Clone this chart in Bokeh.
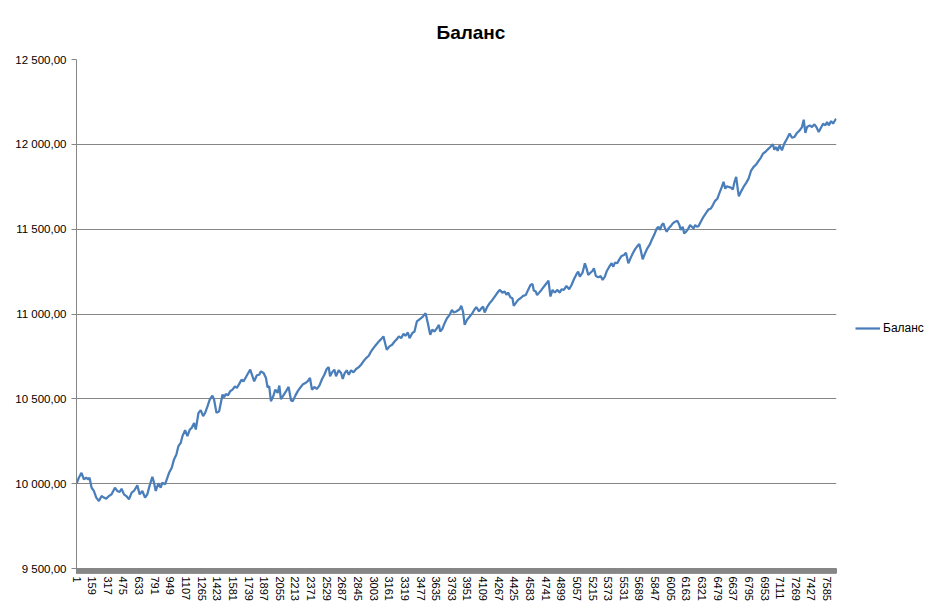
from bokeh.plotting import figure
from bokeh.models import FixedTicker, Range1d, Legend, LegendItem
from bokeh.embed import file_html
from bokeh.resources import INLINE

# ---------------- data ----------------
N_CATEGORIES = 7680

x_tick_labels = [1, 159, 317, 475, 633, 791, 949, 1107, 1265, 1423, 1581, 1739, 1897,
                 2055, 2213, 2371, 2529, 2687, 2845, 3003, 3161, 3319, 3477, 3635, 3793,
                 3951, 4109, 4267, 4425, 4583, 4741, 4899, 5057, 5215, 5373, 5531, 5689,
                 5847, 6005, 6163, 6321, 6479, 6637, 6795, 6953, 7111, 7269, 7427, 7585]

y_ticks = [9500, 10000, 10500, 11000, 11500, 12000, 12500]
y_tick_labels = ["9 500,00", "10 000,00", "10 500,00", "11 000,00",
                 "11 500,00", "12 000,00", "12 500,00"]

idx_part1 = [1, 24, 51, 75, 98, 119, 132, 153, 176, 200, 227, 254, 277, 301, 328, 355, 389,
             412, 436, 456, 480, 504, 531, 558, 581, 615, 639, 666, 693, 716, 740, 767, 784,
             801, 828, 851, 868, 895, 919, 936, 963, 986, 1010, 1030, 1054, 1071, 1098, 1121,
             1145, 1165, 1189, 1206, 1233, 1256, 1280, 1300, 1324, 1347, 1374, 1391, 1415, 1442,
             1476, 1493, 1509, 1533, 1553, 1577, 1601, 1621, 1645, 1668, 1688, 1712, 1736, 1756,
             1779, 1796, 1823, 1847, 1864, 1891, 1915, 1931, 1948]
bal_part1 = [10000, 10035, 10064, 10025, 10035, 10025, 10035, 9976, 9957, 9918, 9898, 9927,
             9918, 9912, 9927, 9937, 9976, 9957, 9951, 9970, 9937, 9927, 9908, 9947, 9957, 9990,
             9937, 9957, 9918, 9937, 9990, 10041, 10006, 9957, 10002, 9976, 10006, 9996, 10035,
             10064, 10094, 10143, 10172, 10221, 10241, 10280, 10315, 10280, 10319, 10329, 10358,
             10319, 10417, 10433, 10398, 10417, 10456, 10495, 10519, 10495, 10417, 10427,
             10525, 10509, 10529, 10521, 10545, 10554, 10574, 10564, 10588, 10613, 10603, 10627,
             10652, 10672, 10633, 10603, 10639, 10642, 10662, 10652, 10623, 10568, 10574]

idx_part2 = [1965, 1989, 2009, 2033, 2050, 2066, 2090, 2117, 2144, 2168, 2185, 2212, 2235, 2259,
             2286, 2313, 2336, 2360, 2380, 2404, 2428, 2455, 2482, 2505, 2529, 2549, 2563, 2583,
             2606, 2623, 2650, 2674, 2691, 2708, 2731, 2752, 2775, 2799, 2826, 2853, 2876, 2900,
             2927, 2954, 2978, 3001, 3028, 3055, 3079, 3102, 3123, 3136, 3163, 3190, 3214, 3238,
             3258, 3281, 3305, 3325, 3349, 3366, 3393, 3416, 3440, 3467, 3501, 3528, 3551, 3575,
             3595, 3619, 3643, 3663, 3676, 3697, 3720, 3744, 3771, 3794, 3811, 3838, 3872]
bal_part2 = [10486, 10515, 10554, 10535, 10578, 10499, 10519, 10544, 10570, 10492, 10486, 10519,
             10544, 10564, 10584, 10593, 10603, 10623, 10554, 10570, 10558, 10578, 10617, 10642,
             10676, 10687, 10633, 10656, 10672, 10633, 10668, 10652, 10617, 10648, 10668, 10642,
             10668, 10656, 10676, 10687, 10701, 10721, 10740, 10754, 10780, 10799, 10819, 10838,
             10852, 10868, 10819, 10789, 10809, 10819, 10838, 10852, 10868, 10858, 10883, 10872,
             10891, 10858, 10887, 10897, 10956, 10969, 10985, 11005, 10946, 10877, 10907, 10897,
             10917, 10936, 10897, 10911, 10946, 10975, 10995, 11024, 11009, 11015, 11028]

idx_part3 = [3889, 3906, 3923, 3947, 3974, 4001, 4024, 4041, 4068, 4092, 4109, 4125, 4149, 4176,
             4203, 4227, 4250, 4277, 4304, 4328, 4345, 4362, 4385, 4406, 4419, 4439, 4463, 4487,
             4514, 4541, 4564, 4588, 4608, 4622, 4642, 4655, 4676, 4699, 4723, 4750, 4770, 4790,
             4811, 4834, 4858, 4885, 4902, 4925, 4952, 4979, 5003, 5027, 5054, 5070, 5087, 5114,
             5138, 5155, 5172, 5189, 5216, 5229, 5249, 5273, 5297, 5317, 5340, 5357, 5384, 5408,
             5425, 5442, 5465, 5486, 5509, 5533, 5553, 5577, 5594, 5621, 5644, 5668, 5688, 5702,
             5722, 5745, 5769, 5796]
bal_part3 = [11048, 11015, 10936, 10966, 10985, 11005, 11028, 11040, 11015, 11034, 11044, 11009,
             11040, 11064, 11083, 11103, 11122, 11142, 11126, 11132, 11113, 11126, 11099, 11093,
             11048, 11064, 11083, 11093, 11107, 11112, 11142, 11171, 11177, 11138, 11132, 11112,
             11126, 11142, 11161, 11181, 11197, 11103, 11142, 11126, 11142, 11126, 11146, 11142,
             11165, 11146, 11171, 11205, 11236, 11250, 11220, 11244, 11299, 11269, 11230, 11240,
             11255, 11269, 11224, 11216, 11224, 11201, 11220, 11250, 11279, 11299, 11279, 11303,
             11299, 11322, 11342, 11348, 11361, 11299, 11322, 11357, 11381, 11400, 11412, 11377,
             11322, 11357, 11387, 11412]

idx_part4 = [5813, 5837, 5864, 5881, 5898, 5914, 5931, 5948, 5965, 5982, 6006, 6026, 6049, 6073,
             6093, 6107, 6127, 6141, 6161, 6184, 6201, 6218, 6235, 6252, 6269, 6286, 6309, 6336,
             6363, 6387, 6411, 6431, 6454, 6478, 6498, 6522, 6539, 6556, 6573, 6589, 6613, 6633,
             6650, 6667, 6684, 6694, 6714, 6741, 6768, 6792, 6816, 6843, 6870, 6893, 6917, 6937,
             6961, 6984, 7011, 7038, 7052, 7072, 7086, 7106, 7129, 7153, 7180, 7207, 7231, 7254,
             7281, 7308, 7332, 7349, 7366, 7383, 7410, 7433, 7457, 7477, 7501, 7518, 7545, 7568,
             7585, 7602, 7626, 7646, 7669, 7680]
bal_part4 = [11436, 11465, 11504, 11514, 11495, 11524, 11534, 11504, 11485, 11504, 11518, 11534,
             11544, 11549, 11524, 11495, 11514, 11475, 11485, 11504, 11524, 11514, 11504, 11524,
             11514, 11518, 11544, 11573, 11596, 11616, 11622, 11642, 11667, 11681, 11714, 11749,
             11779, 11739, 11753, 11749, 11745, 11734, 11779, 11808, 11730, 11694, 11720, 11749,
             11773, 11798, 11843, 11867, 11882, 11902, 11922, 11945, 11955, 11969, 11984, 12000,
             11969, 11984, 11961, 11994, 11965, 12004, 12033, 12063, 12039, 12043, 12067, 12082,
             12102, 12145, 12067, 12102, 12112, 12102, 12118, 12102, 12072, 12092, 12121, 12112,
             12131, 12112, 12137, 12122, 12145, 12149]

series_name = "Баланс"

trade_idx = idx_part1 + idx_part2 + idx_part3 + idx_part4
balance = bal_part1 + bal_part2 + bal_part3 + bal_part4
assert len(trade_idx) == len(balance)

# ---------------- figure ----------------
LABEL_FONT = "Liberation Sans"
GRID = "#868686"

p = figure(frame_width=760, frame_height=509, output_backend="svg", toolbar_location=None,
           x_range=Range1d(0.5, N_CATEGORIES + 0.5), y_range=Range1d(9500, 12500),
           min_border_left=76, min_border_right=0, min_border_top=59, min_border_bottom=47,
           background_fill_color="white", border_fill_color="white")
p.outline_line_color = None
# light rounded chart-area frame drawn just inside the page edge (does not change layout)
p.styles = {"outline": "2px solid #d6d6d6", "outline-offset": "-4px", "border-radius": "6px"}

p.title.text = "Баланс"
p.title.align = "left"
p.title.offset = 360
p.title.text_font = LABEL_FONT
p.title.text_font_size = "19px"
p.title.text_font_style = "bold"
p.title.text_color = "#000000"
p.title.standoff = 33

r = p.line(trade_idx, balance, line_color="#4a7ebb", line_width=2.25)

# y axis
p.yaxis.ticker = FixedTicker(ticks=y_ticks)
p.yaxis.major_label_overrides = dict(zip(y_ticks, y_tick_labels))
p.yaxis.axis_line_color = GRID
p.yaxis.major_tick_line_color = GRID
p.yaxis.major_tick_out = 5
p.yaxis.major_tick_in = 0
p.yaxis.minor_tick_line_color = None
p.yaxis.major_label_standoff = 5
p.yaxis.major_label_text_font = LABEL_FONT
p.yaxis.major_label_text_font_size = "11.5px"
p.yaxis.major_label_text_color = "#000000"

# x axis (dense category tick marks form a solid band)
p.xaxis.ticker = FixedTicker(ticks=x_tick_labels,
                             minor_ticks=list(range(1, N_CATEGORIES + 1, 3)))
p.xaxis.major_label_overrides = {t: str(t) for t in x_tick_labels}
p.xaxis.major_label_orientation = "vertical"
p.xaxis.axis_line_color = GRID
p.xaxis.major_tick_line_color = GRID
p.xaxis.major_tick_out = 5
p.xaxis.major_tick_in = 0
p.xaxis.minor_tick_line_color = GRID
p.xaxis.minor_tick_out = 5
p.xaxis.minor_tick_in = 0
p.xaxis.major_label_standoff = 3
p.xaxis.major_label_text_font = LABEL_FONT
p.xaxis.major_label_text_font_size = "11px"
p.xaxis.major_label_text_color = "#000000"

p.xgrid.grid_line_color = None
p.ygrid.ticker = FixedTicker(ticks=y_ticks)
p.ygrid.grid_line_color = GRID
p.ygrid.grid_line_width = 1

legend = Legend(items=[LegendItem(label=series_name, renderers=[r])],
                location=(19, 230), margin=0, padding=0, glyph_width=25,
                label_standoff=3, border_line_color=None, background_fill_alpha=0,
                label_text_font=LABEL_FONT, label_text_font_size="12px",
                label_text_color="#000000")
p.add_layout(legend, "right")

open("out.html", "w").write(file_html(p, INLINE))
